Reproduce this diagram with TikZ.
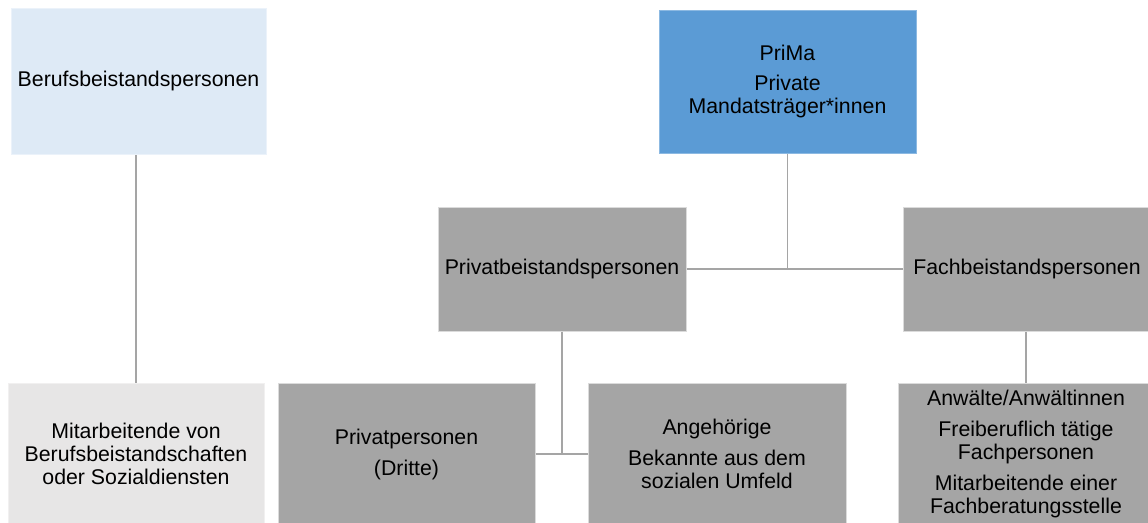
\documentclass[tikz,border=0pt]{standalone}
\usepackage{fontspec}
\setmainfont{Liberation Sans}
\definecolor{hellblau}{HTML}{DEEAF6}
\definecolor{mittelblau}{HTML}{5B9BD5}
\definecolor{grau}{HTML}{A5A5A5}
\definecolor{hellgrau}{HTML}{E7E6E6}
\tikzset{
  kasten/.style={rectangle, inner sep=0pt, align=center,
    font=\fontsize{21.3}{23}\selectfont, line width=1pt},
  berufkasten/.style={kasten, fill=hellblau, draw=hellblau!60!white},
  primakasten/.style={kasten, fill=mittelblau, draw=mittelblau!70!white},
  graukasten/.style={kasten, fill=grau, draw=grau!40!white},
  hellkasten/.style={kasten, fill=hellgrau, draw=hellgrau!60!white},
  linie/.style={draw=grau, line width=1.5pt}
}
\begin{document}
\begin{tikzpicture}[x=1pt, y=-1pt]
  \path[use as bounding box, clip] (0,0) rectangle (1148,522);
  \node (beruf) [berufkasten, minimum width=255, minimum height=146] at (138.5,81) {Berufsbeistandspersonen};
  \node (prima) [primakasten, minimum width=257, minimum height=143] at (787.5,81.5) {PriMa\\[7pt] Private\\ Mandatsträger*innen};
  \node (privat) [graukasten, minimum width=248, minimum height=124] at (562,269) {Privatbeistandspersonen};
  \node (fach) [graukasten, minimum width=248, minimum height=124] at (1027,269) {Fachbeistandspersonen};
  \node (mitarb) [hellkasten, minimum width=256, minimum height=142] at (136,454) {Mitarbeitende von\\ Berufsbeistandschaften\\ oder Sozialdiensten};
  \node (privp) [graukasten, minimum width=257, minimum height=142] at (406.5,454) {Privatpersonen\\[8pt] (Dritte)};
  \node (angeh) [graukasten, minimum width=258, minimum height=142] at (717,454) {Angehörige\\[8pt] Bekannte aus dem\\ sozialen Umfeld};
  \node (anwalt) [graukasten, minimum width=256, minimum height=142] at (1026,454) {Anwälte/Anwältinnen\\[8pt] Freiberuflich tätige\\ Fachpersonen\\[8pt] Mitarbeitende einer\\ Fachberatungsstelle};
  \draw [linie] (mitarb.north) -- (mitarb.north |- beruf.south);
  \draw [linie] (prima.south) -- (prima |- privat);
  \draw [linie] (privat) -- (fach);
  \draw [linie] (privat.south) -- (privat |- privp);
  \draw [linie] (privp) -- (angeh);
  \draw [linie] (fach.south -| anwalt.north) -- (anwalt.north);
\end{tikzpicture}
\end{document}
